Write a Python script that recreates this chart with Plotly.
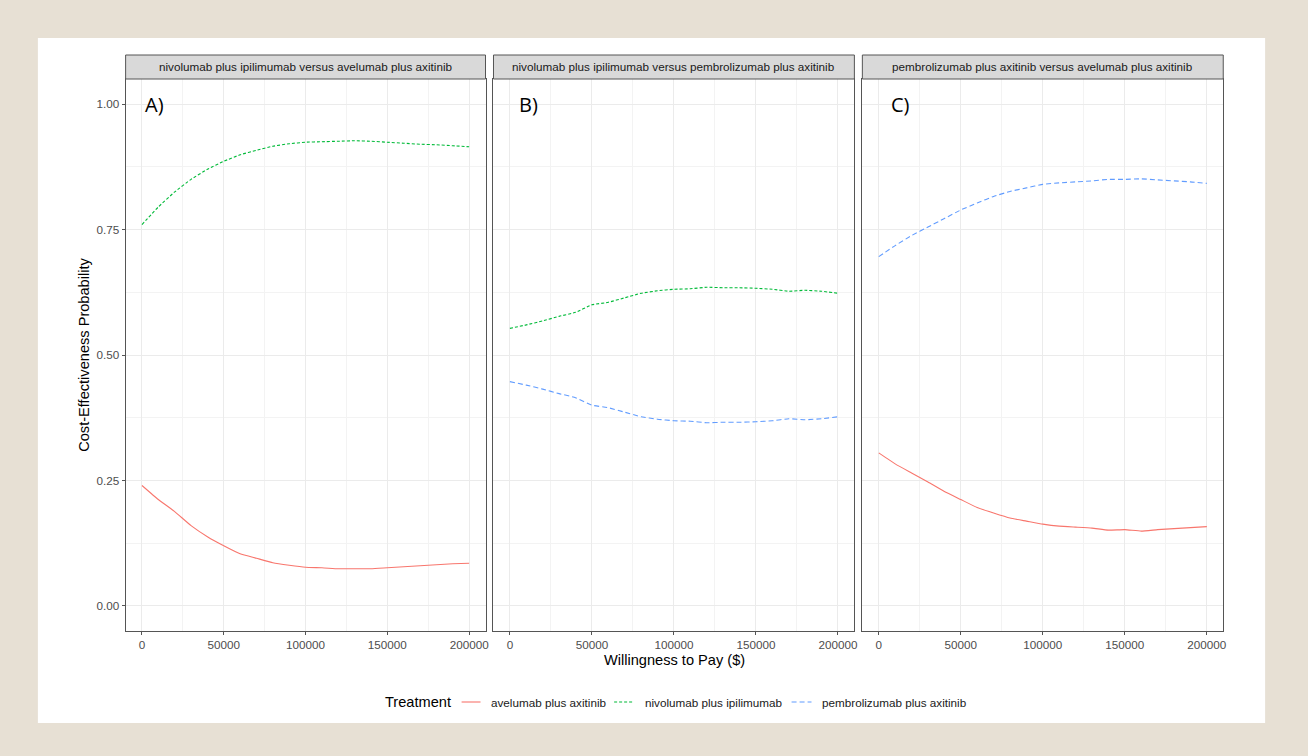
import plotly.graph_objects as go

# ---------------- data ----------------
wtp = [0, 10000, 20000, 30000, 40000, 50000, 60000, 70000, 80000, 90000, 100000,
       110000, 120000, 130000, 140000, 150000, 160000, 170000, 180000, 190000, 200000]

# Panel A: nivolumab plus ipilimumab versus avelumab plus axitinib
a_nivo = [0.760, 0.795, 0.825, 0.850, 0.870, 0.886, 0.899, 0.908, 0.916, 0.921, 0.924,
          0.925, 0.926, 0.927, 0.926, 0.924, 0.922, 0.920, 0.919, 0.917, 0.915]
a_avel = [0.240, 0.212, 0.188, 0.160, 0.138, 0.120, 0.104, 0.095, 0.086, 0.081, 0.077,
          0.076, 0.074, 0.074, 0.074, 0.076, 0.078, 0.080, 0.082, 0.084, 0.085]

# Panel B: nivolumab plus ipilimumab versus pembrolizumab plus axitinib
b_nivo = [0.553, 0.560, 0.568, 0.577, 0.585, 0.600, 0.605, 0.614, 0.623, 0.628, 0.631,
          0.632, 0.635, 0.634, 0.634, 0.633, 0.631, 0.627, 0.629, 0.627, 0.623]
b_pemb = [0.447, 0.440, 0.432, 0.423, 0.415, 0.400, 0.395, 0.386, 0.377, 0.372, 0.369,
          0.368, 0.365, 0.366, 0.366, 0.367, 0.369, 0.373, 0.371, 0.373, 0.377]

# Panel C: pembrolizumab plus axitinib versus avelumab plus axitinib
c_pemb = [0.696, 0.718, 0.738, 0.755, 0.772, 0.789, 0.803, 0.816, 0.826, 0.833, 0.840,
          0.843, 0.845, 0.847, 0.850, 0.850, 0.851, 0.849, 0.847, 0.845, 0.842]
c_avel = [0.305, 0.283, 0.265, 0.247, 0.228, 0.212, 0.196, 0.185, 0.175, 0.169, 0.163,
          0.159, 0.157, 0.155, 0.151, 0.152, 0.149, 0.152, 0.154, 0.156, 0.158]

panel_titles = ["nivolumab plus ipilimumab versus avelumab plus axitinib",
                "nivolumab plus ipilimumab versus pembrolizumab plus axitinib",
                "pembrolizumab plus axitinib versus avelumab plus axitinib"]
panel_tags = ["A)", "B)", "C)"]
treatments = ["avelumab plus axitinib", "nivolumab plus ipilimumab", "pembrolizumab plus axitinib"]
legend_title = "Treatment"
x_ticks = [0, 50000, 100000, 150000, 200000]
y_ticks = [0.00, 0.25, 0.50, 0.75, 1.00]
y_ticklabels = ["0.00", "0.25", "0.50", "0.75", "1.00"]

# ---------------- style ----------------
W, H = 1308, 756
BEIGE = "#e7e0d4"
COLORS = {"avelumab plus axitinib": "#F8766D",
          "nivolumab plus ipilimumab": "#00BA38",
          "pembrolizumab plus axitinib": "#619CFF"}
DASH = {"avelumab plus axitinib": "solid",
        "nivolumab plus ipilimumab": "3px,2px",
        "pembrolizumab plus axitinib": "5px,3px"}
FONT = "Liberation Sans, Arial, sans-serif"
SMALL = 11.7
BIG = 14.6

# panel pixel geometry
panels_px = [(126, 487), (495, 857), (865, 1227)]
top_px, bot_px = 79, 631
strip_top = 55

def px_x(p):
    return p / W

def px_y(p):
    return 1 - p / H

fig = go.Figure()

series = [
    [("avelumab plus axitinib", a_avel), ("nivolumab plus ipilimumab", a_nivo)],
    [("nivolumab plus ipilimumab", b_nivo), ("pembrolizumab plus axitinib", b_pemb)],
    [("avelumab plus axitinib", c_avel), ("pembrolizumab plus axitinib", c_pemb)],
]

for i, lst in enumerate(series):
    xa = "x" if i == 0 else f"x{i+1}"
    ya = "y" if i == 0 else f"y{i+1}"
    for name, vals in lst:
        fig.add_trace(go.Scatter(
            x=wtp, y=vals, mode="lines", name=name,
            line=dict(color=COLORS[name], width=1.1, dash=DASH[name], shape="spline", smoothing=0.4),
            xaxis=xa, yaxis=ya, legendgroup=name, showlegend=False,
        ))

axis_common_x = dict(
    range=[-10000, 210000], tickvals=x_ticks, ticktext=[str(v) for v in x_ticks],
    showgrid=True, gridcolor="#EBEBEB", gridwidth=1,
    minor=dict(tickvals=[25000, 75000, 125000, 175000], showgrid=True, gridcolor="#F3F3F3", gridwidth=0.6, ticks=""),
    showline=True, linecolor="#555555", linewidth=1, mirror=True,
    ticks="outside", ticklen=3, tickcolor="#555555",
    tickfont=dict(family=FONT, size=SMALL, color="#4D4D4D"),
    zeroline=False, fixedrange=True,
)
axis_common_y = dict(
    range=[-0.05, 1.05], tickvals=y_ticks, ticktext=y_ticklabels,
    showgrid=True, gridcolor="#EBEBEB", gridwidth=1,
    minor=dict(tickvals=[0.125, 0.375, 0.625, 0.875], showgrid=True, gridcolor="#F3F3F3", gridwidth=0.6, ticks=""),
    showline=True, linecolor="#555555", linewidth=1, mirror=True,
    tickfont=dict(family=FONT, size=SMALL, color="#4D4D4D"),
    zeroline=False, fixedrange=True,
    domain=[px_y(bot_px), px_y(top_px)],
)

layout_axes = {}
for i, (l, r) in enumerate(panels_px):
    sfx = "" if i == 0 else str(i + 1)
    xa = dict(axis_common_x)
    xa["domain"] = [px_x(l), px_x(r)]
    xa["anchor"] = "y" + sfx
    ya = dict(axis_common_y)
    ya["anchor"] = "x" + sfx
    if i == 0:
        ya["ticks"] = "outside"
        ya["ticklen"] = 3
        ya["tickcolor"] = "#555555"
        ya["title"] = dict(text="Cost-Effectiveness Probability", standoff=3,
                           font=dict(family=FONT, size=BIG, color="#000000"))
    else:
        ya["showticklabels"] = False
        ya["ticks"] = ""
        ya["matches"] = "y"
    layout_axes["xaxis" + sfx] = xa
    layout_axes["yaxis" + sfx] = ya

shapes = [
    # white card
    dict(type="rect", xref="paper", yref="paper", x0=px_x(38), x1=px_x(1269),
         y0=px_y(723), y1=px_y(38), fillcolor="white", line=dict(width=0), layer="below"),
]
annotations = []
for i, (l, r) in enumerate(panels_px):
    shapes.append(dict(type="rect", xref="paper", yref="paper",
                       x0=px_x(l), x1=px_x(r), y0=px_y(top_px), y1=px_y(strip_top),
                       fillcolor="#D9D9D9", line=dict(color="#555555", width=1), layer="above"))
    annotations.append(dict(text=panel_titles[i], xref="paper", yref="paper",
                            x=px_x((l + r) / 2), y=px_y((top_px + strip_top) / 2),
                            showarrow=False, xanchor="center", yanchor="middle",
                            font=dict(family=FONT, size=SMALL, color="#1A1A1A")))

tag_x = [500, 4500, 6500]
for i, tag in enumerate(panel_tags):
    sfx = "" if i == 0 else str(i + 1)
    annotations.append(dict(text=tag, xref="x" + sfx, yref="y" + sfx, x=tag_x[i], y=1.0,
                            showarrow=False, xanchor="left", yanchor="middle",
                            font=dict(family="Open Sans, Lato, sans-serif", size=20, color="#000000")))

annotations.append(dict(text="Willingness to Pay ($)", xref="paper", yref="paper",
                        x=px_x(676.5), y=px_y(660), showarrow=False,
                        xanchor="center", yanchor="middle",
                        font=dict(family=FONT, size=BIG, color="#000000")))

# ---- legend (ggplot style, bottom) ----
leg_y = 702
annotations.append(dict(text=legend_title, xref="paper", yref="paper", x=px_x(384), y=px_y(leg_y),
                        showarrow=False, xanchor="left", yanchor="middle",
                        font=dict(family=FONT, size=BIG, color="#000000")))
sample_px = [(463, 482), (616, 635), (794, 814)]
text_px = [491, 645, 823]
for name, (s0, s1), tx in zip(treatments, sample_px, text_px):
    shapes.append(dict(type="line", xref="paper", yref="paper",
                       x0=px_x(s0), x1=px_x(s1), y0=px_y(leg_y), y1=px_y(leg_y),
                       line=dict(color=COLORS[name], width=1.1, dash=DASH[name])))
    annotations.append(dict(text=name, xref="paper", yref="paper", x=px_x(tx), y=px_y(leg_y),
                            showarrow=False, xanchor="left", yanchor="middle",
                            font=dict(family=FONT, size=SMALL, color="#1A1A1A")))

fig.update_layout(
    width=W, height=H,
    margin=dict(l=0, r=0, t=0, b=0),
    paper_bgcolor=BEIGE, plot_bgcolor="white",
    shapes=shapes, annotations=annotations,
    showlegend=False,
    **layout_axes,
)

fig.write_html("out.html", config={"displayModeBar": False},
               post_script="document.body.style.margin='0';document.body.style.overflow='hidden';"
                           "document.body.style.background='" + BEIGE + "';")
